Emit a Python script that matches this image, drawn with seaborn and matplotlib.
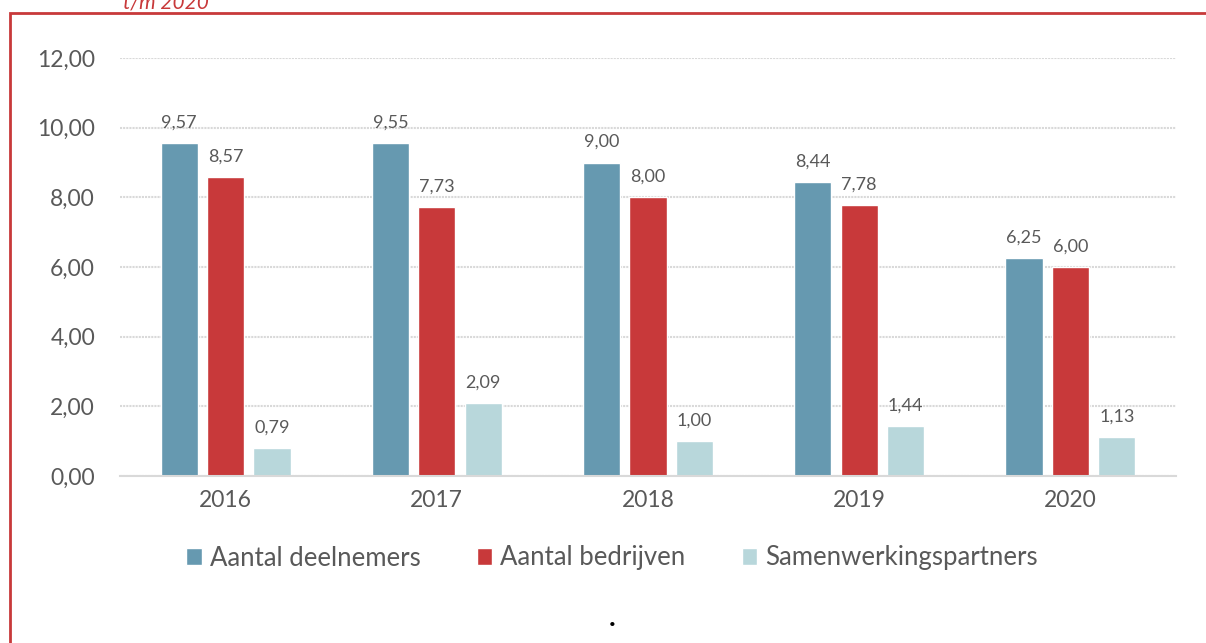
import matplotlib.pyplot as plt
import seaborn as sns
import pandas as pd
from matplotlib.patches import Rectangle

# Data
years = ["2016", "2017", "2018", "2019", "2020"]
series = ["Aantal deelnemers", "Aantal bedrijven", "Samenwerkingspartners"]
deelnemers = [9.57, 9.55, 9.00, 8.44, 6.25]
bedrijven = [8.57, 7.73, 8.00, 7.78, 6.00]
partners = [0.79, 2.09, 1.00, 1.44, 1.13]
colors = ["#6699B0", "#C8393A", "#B8D7DB"]
yticks = [0, 2, 4, 6, 8, 10, 12]

df = pd.DataFrame({
    "jaar": years * 3,
    "reeks": [series[0]] * 5 + [series[1]] * 5 + [series[2]] * 5,
    "waarde": deelnemers + bedrijven + partners,
})

sns.set_theme(style="white")
plt.rcParams['font.family'] = ['Lato', 'DejaVu Sans']
text_col = "#595959"

fig = plt.figure(figsize=(12.06, 6.43), dpi=100)
ax = fig.add_axes([120 / 1206, 167 / 643, 1056 / 1206, 418 / 643])

sns.barplot(data=df, x="jaar", y="waarde", hue="reeks", palette=colors,
            width=0.66, gap=0.2, ax=ax, saturation=1)

for cont in ax.containers:
    ax.bar_label(cont, labels=[f"{v:.2f}".replace(".", ",") for v in cont.datavalues],
                 padding=9, fontsize=13, color=text_col)

ax.set_ylim(0, 12)
ax.set_xlim(-0.5, 4.5)
ax.set_yticks(yticks)
ax.set_yticklabels([f"{v:.2f}".replace(".", ",") for v in yticks])
ax.set_axisbelow(True)
ax.yaxis.grid(True, color="#D9D9D9", linewidth=1.5, linestyle=(0, (1, 0.5)))
ax.xaxis.grid(False)
for s in ["top", "right", "left"]:
    ax.spines[s].set_visible(False)
ax.spines["bottom"].set_color("#D9D9D9")
ax.spines["bottom"].set_linewidth(1.5)
ax.tick_params(axis="both", length=0, labelsize=16.5, labelcolor=text_col)
ax.tick_params(axis="y", pad=18)
ax.tick_params(axis="x", pad=10)
ax.set_xlabel("")
ax.set_ylabel("")

ax.legend(loc="center", bbox_to_anchor=(612 / 1206, 1 - 558 / 643),
          bbox_transform=fig.transFigure, ncol=3, frameon=False,
          fontsize=18.5, labelcolor=text_col, handlelength=0.6, handleheight=0.6,
          handletextpad=0.3, columnspacing=2.2)

# frame and header remnants
fig.patches.append(Rectangle((10 / 1206, -0.1), 1.2, (643 - 13) / 643 + 0.1,
                             transform=fig.transFigure, fill=False,
                             edgecolor="#C8393A", linewidth=2))
fig.text(123 / 1206, 0.996, "t/m 2020", color="#C8393A", fontsize=15,
         style="italic", va="center", ha="left")
fig.text(612 / 1206, 1 - 626 / 643, ".", color="black", fontsize=20,
         ha="center", va="baseline", fontweight="bold")

fig.savefig("out.png", dpi=100)
